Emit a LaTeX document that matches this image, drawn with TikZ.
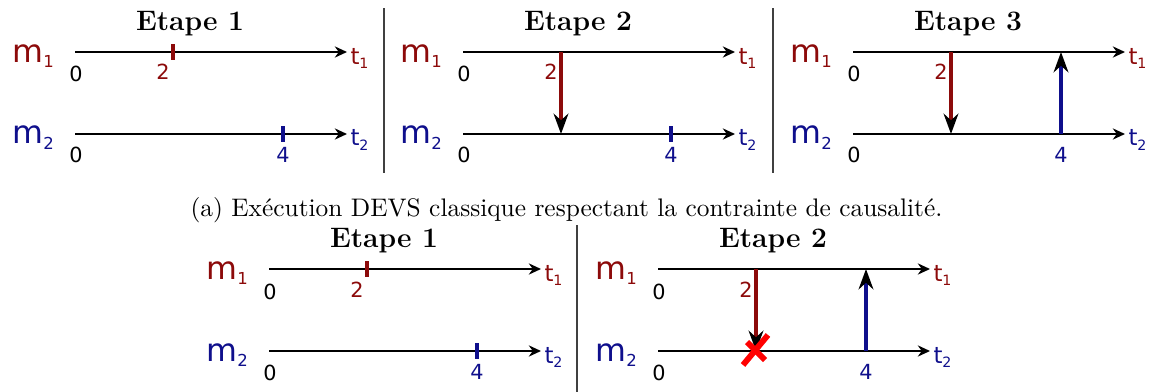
\documentclass[tikz,border=0pt]{standalone}
\usepackage{fontspec}
\newfontfamily\labelfont{DejaVu Sans}
\usetikzlibrary{arrows.meta}
\definecolor{mred}{RGB}{140,10,10}
\definecolor{mblue}{RGB}{15,15,140}

\tikzset{
  axis/.style={line width=0.9pt,-{Stealth[length=4.8pt,width=4.4pt]}},
  tick/.style={line width=1.2pt},
  msg/.style={line width=1.3pt,-{Stealth[length=8pt,width=5.8pt,color=black]}},
  steptitle/.style={font=\fontsize{11.1}{13}\selectfont\bfseries,anchor=base,inner sep=0pt},
  mlabel/.style={font=\labelfont\fontsize{12.5}{14}\selectfont,anchor=base west,inner sep=0pt},
  tlabel/.style={font=\labelfont\fontsize{9}{10}\selectfont,anchor=base west,inner sep=0pt},
  num/.style={font=\labelfont\fontsize{8.2}{9}\selectfont,anchor=base,inner sep=0pt},
  sep/.style={black!75,line width=0.6pt},
  cross/.style={red,line width=2.3pt},
}

\begin{document}
\begin{tikzpicture}[x=0.394pt,y=-0.394pt]
\useasboundingbox (0,0) rectangle (1151,392);

% the five panels: two time lines each
\foreach \p/\x/\y/\n in {a1/75/52/1, a2/463/52/2, a3/853/52/3, b1/269/269/1, b2/658/269/2}{
  \coordinate (\p-s1) at (\x,\y);
  \coordinate (\p-e1) at (\x+272,\y);
  \coordinate (\p-s2) at (\x,\y+82);
  \coordinate (\p-e2) at (\x+272,\y+82);
  \draw[axis] (\p-s1) -- (\p-e1);
  \draw[axis] (\p-s2) -- (\p-e2);
  \node[steptitle] (\p-title) at (\x+115,\y-22) {Etape \n};
  \node[mlabel,mred] (\p-m1) at (\x-63,\y+10) {m\raisebox{-2pt}{\fontsize{6.5}{7}\selectfont 1}};
  \node[mlabel,mblue] (\p-m2) at (\x-63,\y+92) {m\raisebox{-2pt}{\fontsize{6.5}{7}\selectfont 2}};
  \node[tlabel,mred] (\p-t1) at (\x+275,\y+12) {t\raisebox{-1.6pt}{\fontsize{5.6}{6}\selectfont 1}};
  \node[tlabel,mblue] (\p-t2) at (\x+275,\y+94) {t\raisebox{-1.6pt}{\fontsize{5.6}{6}\selectfont 2}};
  \node[num] (\p-z1) at (\x+1,\y+30) {0};
  \node[num] (\p-z2) at (\x+1,\y+111) {0};
  \coordinate (\p-a1) at (\x+98,\y);
  \coordinate (\p-a2) at (\x+98,\y+82);
  \coordinate (\p-b1) at (\x+208,\y);
  \coordinate (\p-b2) at (\x+208,\y+82);
  \node[num,mred] (\p-two) at (\x+88,\y+28) {2};
  \node[num,mblue] (\p-four) at (\x+208,\y+110) {4};
}

% (a) Etape 1
\draw[tick,mred] ([shift={(0,-8)}]a1-a1) -- ([shift={(0,8)}]a1-a1);
\draw[tick,mblue] ([shift={(0,-8)}]a1-b2) -- ([shift={(0,8)}]a1-b2);
% (a) Etape 2
\draw[msg,mred] (a2-a1) -- (a2-a2);
\draw[tick,mblue] ([shift={(0,-8)}]a2-b2) -- ([shift={(0,8)}]a2-b2);
% (a) Etape 3
\draw[msg,mred] (a3-a1) -- (a3-a2);
\draw[msg,mblue] (a3-b2) -- (a3-b1);
% (b) Etape 1
\draw[tick,mred] ([shift={(0,-8)}]b1-a1) -- ([shift={(0,8)}]b1-a1);
\draw[tick,mblue] ([shift={(0,-8)}]b1-b2) -- ([shift={(0,8)}]b1-b2);
% (b) Etape 2
\draw[msg,mred] (b2-a1) -- (b2-a2);
\draw[msg,mblue] (b2-b2) -- (b2-b1);
\coordinate (b2-x) at (755,351);
\draw[cross] ([shift={(-12,14)}]b2-x) -- ([shift={(13,-16)}]b2-x);
\draw[cross] ([shift={(-8,-9)}]b2-x) -- ([shift={(10,9)}]b2-x);

% separators
\draw[sep] (384,8) -- (384,173);
\draw[sep] (773,8) -- (773,173);
\draw[sep] (577,225) -- (577,392);

\node[font=\fontsize{10}{12}\selectfont,anchor=base,inner sep=0pt] (caption) at (566.5,216)
  {(a) Exécution DEVS classique respectant la contrainte de causalité.};
\end{tikzpicture}
\end{document}
